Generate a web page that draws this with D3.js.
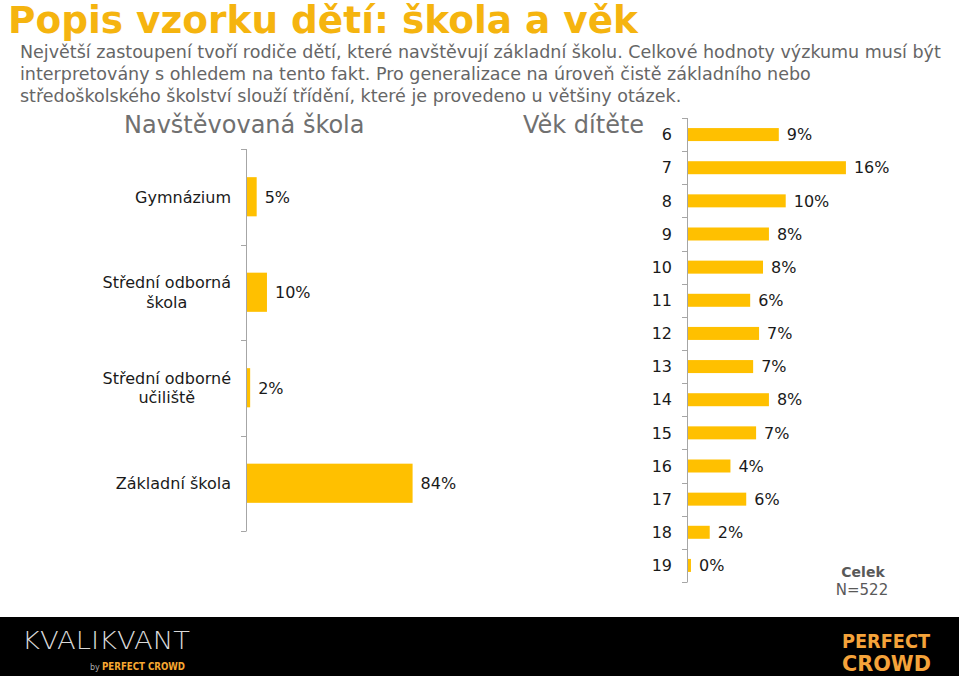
<!DOCTYPE html>
<html>
<head>
<meta charset="utf-8">
<script src="https://cdn.jsdelivr.net/npm/d3@7"></script>
<style>
  html, body { margin: 0; padding: 0; background: #fff; }
  svg { display: block; }
  text { font-family: "DejaVu Sans", Verdana, sans-serif; }
</style>
</head>
<body>
<script>
// ---- data ----
const titleText = "Popis vzorku dětí: škola a věk";
const subtitleLines = [
  "Největší zastoupení tvoří rodiče dětí, které navštěvují základní školu. Celkové hodnoty výzkumu musí být",
  "interpretovány s ohledem na tento fakt. Pro generalizace na úroveň čistě základního nebo",
  "středoškolského školství slouží třídění, které je provedeno u většiny otázek."
];
const schoolTitle = "Navštěvovaná škola";
const schoolCategories = [["Gymnázium"], ["Střední odborná", "škola"], ["Střední odborné", "učiliště"], ["Základní škola"]];
const schoolValues = [4.9, 10.1, 1.6, 83.8];
const ageTitle = "Věk dítěte";
const ageCategories = ["6", "7", "8", "9", "10", "11", "12", "13", "14", "15", "16", "17", "18", "19"];
const ageValues = [9.2, 16.0, 9.9, 8.2, 7.6, 6.3, 7.2, 6.6, 8.2, 6.9, 4.3, 5.9, 2.2, 0.3];
const baseLabel = "Celek";
const nLabel = "N=522";

// ---- setup ----
const W = 959, H = 676;
const BAR = "#FFC000";
const AXIS = "#A6A6A6";
const pct = v => d3.format(".0f")(v) + "%";

const svg = d3.select("body").append("svg").attr("width", W).attr("height", H);
svg.append("rect").attr("width", W).attr("height", H).attr("fill", "#fff");

// title
svg.append("text").attr("x", 8).attr("y", 33)
  .attr("font-size", 37).attr("font-weight", "bold").attr("fill", "#F5B40F")
  .attr("textLength", 630).attr("lengthAdjust", "spacingAndGlyphs")
  .text(titleText);

// subtitle
svg.append("g").selectAll("text").data(subtitleLines).join("text")
  .attr("x", 20).attr("y", (d, i) => 58 + i * 22)
  .attr("font-size", 17.5).attr("fill", "#666666")
  .text(d => d);

// section titles
svg.append("text").attr("x", 124).attr("y", 133).attr("font-size", 24).attr("fill", "#707070").text(schoolTitle);
svg.append("text").attr("x", 523).attr("y", 133).attr("font-size", 24).attr("fill", "#707070").text(ageTitle);

// ---- left chart ----
const yS = d3.scaleBand().domain(d3.range(schoolValues.length)).range([149, 531]).padding(0);
const xS = d3.scaleLinear().domain([0, 100]).range([247, 247 + 197.6]);
const gL = svg.append("g");
const bhL = yS.step() * 0.41;
gL.selectAll("rect.bar").data(schoolValues).join("rect")
  .attr("x", xS(0)).attr("y", (d, i) => yS(i) + yS.step() / 2 - bhL / 2)
  .attr("width", d => xS(d) - xS(0)).attr("height", bhL).attr("fill", BAR);
gL.append("line").attr("x1", 246.5).attr("x2", 246.5).attr("y1", yS.range()[0]).attr("y2", yS.range()[1])
  .attr("stroke", AXIS);
gL.selectAll("line.tick").data(d3.range(schoolValues.length + 1)).join("line")
  .attr("x1", 241).attr("x2", 246.5)
  .attr("y1", i => Math.round(yS.range()[0] + i * yS.step()) + 0.5)
  .attr("y2", i => Math.round(yS.range()[0] + i * yS.step()) + 0.5)
  .attr("stroke", AXIS);
gL.selectAll("text.val").data(schoolValues).join("text")
  .attr("x", d => xS(d) + 8).attr("y", (d, i) => yS(i) + yS.step() / 2).attr("dy", "0.36em")
  .attr("font-size", 16).attr("fill", "#1a1a1a").text(d => pct(d));
schoolCategories.forEach((lines, i) => {
  const t = gL.append("text").attr("font-size", 16).attr("fill", "#1a1a1a").attr("text-anchor", "middle");
  const cy = yS(i) + yS.step() / 2;
  const lh = 19.5;
  lines.forEach((ln, j) => {
    t.append("tspan").attr("x", 0).attr("y", cy - (lines.length - 1) * lh / 2 + j * lh).attr("dy", "0.36em").text(ln);
  });
  const w = d3.max(t.selectAll("tspan").nodes(), n => n.getComputedTextLength());
  t.selectAll("tspan").attr("x", 231 - w / 2);
});

// ---- right chart ----
const yA = d3.scaleBand().domain(ageCategories).range([118, 582]).padding(0);
const xA = d3.scaleLinear().domain([0, 100]).range([688, 688 + 987]);
const gR = svg.append("g");
const bhR = 13;
gR.selectAll("rect.bar").data(ageValues).join("rect")
  .attr("x", xA(0)).attr("y", (d, i) => yA(ageCategories[i]) + yA.step() / 2 - bhR / 2)
  .attr("width", d => xA(d) - xA(0)).attr("height", bhR).attr("fill", BAR);
gR.append("line").attr("x1", 687.5).attr("x2", 687.5).attr("y1", yA.range()[0]).attr("y2", yA.range()[1])
  .attr("stroke", AXIS);
gR.selectAll("line.tick").data(d3.range(ageCategories.length + 1)).join("line")
  .attr("x1", 682).attr("x2", 687.5)
  .attr("y1", i => Math.round(yA.range()[0] + i * yA.step()) + 0.5)
  .attr("y2", i => Math.round(yA.range()[0] + i * yA.step()) + 0.5)
  .attr("stroke", AXIS);
gR.selectAll("text.val").data(ageValues).join("text")
  .attr("x", d => xA(d) + 8).attr("y", (d, i) => yA(ageCategories[i]) + yA.step() / 2).attr("dy", "0.36em")
  .attr("font-size", 16).attr("fill", "#1a1a1a").text(d => pct(d));
gR.selectAll("text.cat").data(ageCategories).join("text")
  .attr("x", 672).attr("y", d => yA(d) + yA.step() / 2).attr("dy", "0.36em")
  .attr("text-anchor", "end").attr("font-size", 16).attr("fill", "#1a1a1a").text(d => d);

// base note
svg.append("text").attr("x", 863).attr("y", 577).attr("text-anchor", "middle")
  .attr("font-size", 14).attr("font-weight", "bold").attr("fill", "#595959").text(baseLabel);
svg.append("text").attr("x", 862).attr("y", 595).attr("text-anchor", "middle")
  .attr("font-size", 15).attr("fill", "#595959").text(nLabel);

// ---- footer ----
svg.append("rect").attr("x", 0).attr("y", 617).attr("width", W).attr("height", H - 617).attr("fill", "#000");
svg.append("text").attr("x", 22).attr("y", 649)
  .attr("font-family", "Lato, 'Open Sans', sans-serif").attr("font-weight", 300)
  .attr("font-size", 25).attr("fill", "#d9d9d9")
  .attr("textLength", 168).attr("lengthAdjust", "spacingAndGlyphs").text("KVALIKVANT");
svg.append("text").attr("x", 90).attr("y", 670)
  .attr("font-size", 8).attr("fill", "#aaaaaa").text("by");
svg.append("text").attr("x", 102).attr("y", 670)
  .attr("font-family", "'DejaVu Sans Condensed', 'DejaVu Sans', sans-serif")
  .attr("font-size", 10).attr("font-weight", "bold").attr("fill", "#F7A832")
  .attr("textLength", 83).attr("lengthAdjust", "spacingAndGlyphs").text("PERFECT CROWD");
svg.append("text").attr("x", 842).attr("y", 648)
  .attr("font-family", "'DejaVu Sans Condensed', 'Liberation Sans Narrow', sans-serif")
  .attr("font-size", 20).attr("font-weight", "bold").attr("fill", "#F5A33A")
  .attr("textLength", 88).attr("lengthAdjust", "spacingAndGlyphs").text("PERFECT");
svg.append("text").attr("x", 842).attr("y", 671)
  .attr("font-family", "'DejaVu Sans Condensed', 'Liberation Sans Narrow', sans-serif")
  .attr("font-size", 21).attr("font-weight", "bold").attr("fill", "#F5A33A")
  .attr("textLength", 89).attr("lengthAdjust", "spacingAndGlyphs").text("CROWD");
</script>
</body>
</html>
